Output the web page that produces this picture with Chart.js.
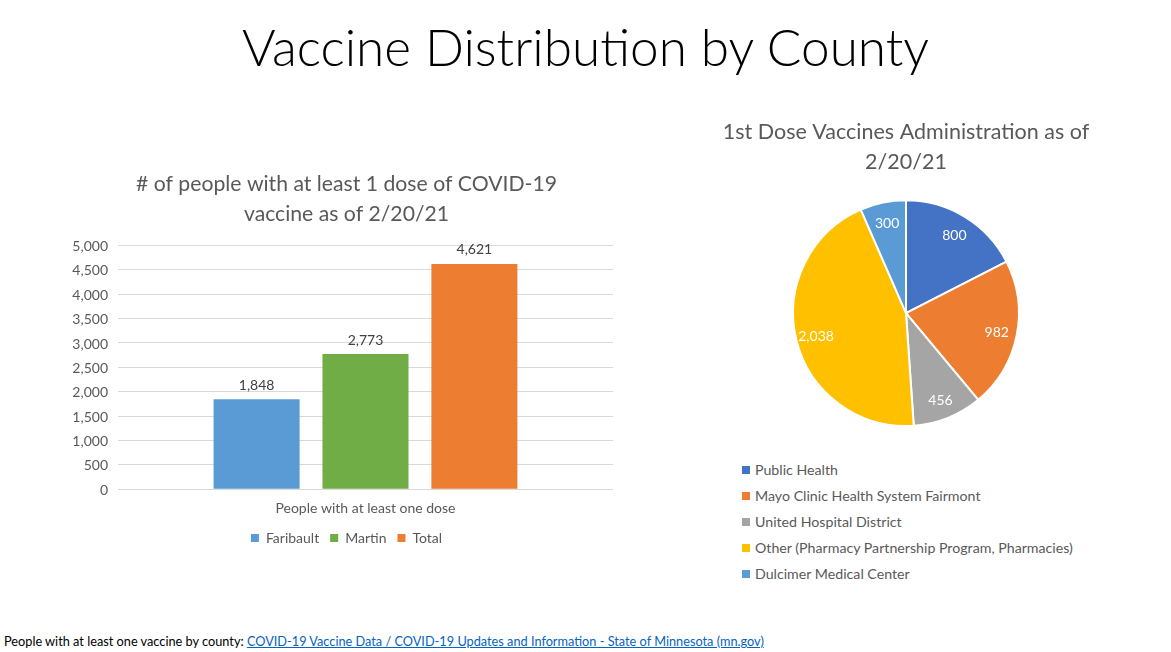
<!DOCTYPE html>
<html>
<head>
<meta charset="utf-8">
<script src="https://cdn.jsdelivr.net/npm/chart.js@4.4.1/dist/chart.umd.min.js"></script>
<style>
  html, body { margin: 0; padding: 0; background: #fff; width: 1171px; height: 652px; overflow: hidden; font-family: Lato, "Open Sans", sans-serif; }
  #main-title { position: absolute; left: 0; width: 1171px; top: 14px; line-height: 64px; text-align: center; font-size: 51.3px; font-weight: 300; color: #000; }
  #barWrap { position: absolute; left: 67px; top: 164px; width: 560px; height: 395px; }
  #pieWrap { position: absolute; left: 700px; top: 111px; width: 412px; height: 320px; }
  #pieLegend { position: absolute; left: 742px; top: 461px; font-size: 14.2px; color: #595959; }
  #pieLegend .item { height: 26px; line-height: 18px; white-space: nowrap; }
  #pieLegend .sw { display: inline-block; width: 8px; height: 8px; margin-right: 5px; vertical-align: 1px; }
  #footer { position: absolute; left: 4px; top: 633px; font-size: 12.74px; color: #000; white-space: nowrap; }
  #footer a { color: #0563C1; text-decoration: underline; }
</style>
</head>
<body>
<div id="main-title">Vaccine Distribution by County</div>
<div id="barWrap"><canvas id="bar"></canvas></div>
<div id="pieWrap"><canvas id="pie"></canvas></div>
<div id="pieLegend"></div>
<div id="footer">People with at least one vaccine by county: <a href="#">COVID-19 Vaccine Data / COVID-19 Updates and Information - State of Minnesota (mn.gov)</a></div>
<script>
// ---- Data ----
const barCategories = ['People with at least one dose'];
const barSeriesNames = ['Faribault', 'Martin', 'Total'];
const barValues = [1848, 2773, 4621];
const barColors = ['#5B9BD5', '#70AD47', '#ED7D31'];
const barTitle = ['# of people with at least 1 dose of COVID-19', 'vaccine as of 2/20/21'];
const yMin = 0, yMax = 5000, yStep = 500;

const pieLabels = ['Public Health', 'Mayo Clinic Health System Fairmont', 'United Hospital District', 'Other (Pharmacy Partnership Program, Pharmacies)', 'Dulcimer Medical Center'];
const pieValues = [800, 982, 456, 2038, 300];
const pieColors = ['#4472C4', '#ED7D31', '#A5A5A5', '#FFC000', '#5B9BD5'];
const pieTitle = ['1st Dose Vaccines Administration as of', '2/20/21'];

Chart.defaults.font.family = 'Lato, "Open Sans", sans-serif';
Chart.defaults.color = '#595959';
const fmt = v => Number(v).toLocaleString('en-US');

const barLabelPlugin = {
  id: 'barLabels',
  afterDatasetsDraw(chart) {
    const ctx = chart.ctx;
    ctx.save();
    ctx.font = '14px Lato, "Open Sans", sans-serif';
    // value labels above bars
    ctx.fillStyle = '#404040';
    ctx.textAlign = 'center';
    ctx.textBaseline = 'middle';
    chart.data.datasets.forEach((ds, i) => {
      const meta = chart.getDatasetMeta(i);
      meta.data.forEach((el, j) => {
        ctx.fillText(fmt(ds.data[j]), el.x, el.y - 14);
      });
    });
    // y-axis tick labels (drawn unclipped, from the scale's own ticks)
    const ys = chart.scales.y;
    ctx.fillStyle = '#595959';
    ctx.textAlign = 'right';
    ys.ticks.forEach(t => {
      ctx.fillText(fmt(t.value), ys.right - 10, ys.getPixelForValue(t.value) + 1);
    });
    ctx.restore();
  }
};

new Chart(document.getElementById('bar'), {
  type: 'bar',
  data: {
    labels: barCategories,
    datasets: barSeriesNames.map((n, i) => ({
      label: n,
      data: [barValues[i]],
      backgroundColor: barColors[i],
      categoryPercentage: 0.66,
      barPercentage: 0.79
    }))
  },
  options: {
    responsive: true,
    maintainAspectRatio: false,
    animation: false,
    layout: { padding: { left: 13, right: 14, top: 0, bottom: 4 } },
    plugins: {
      title: { display: true, text: barTitle, font: { size: 21.2, weight: 'normal', lineHeight: 1.38 }, color: '#595959', padding: { top: 6, bottom: 17 } },
      legend: { position: 'bottom', labels: { boxWidth: 8, boxHeight: 8, font: { size: 14 }, color: '#595959', padding: 11 } },
      tooltip: { enabled: false }
    },
    scales: {
      x: {
        grid: { display: false },
        border: { display: false },
        ticks: { font: { size: 14 }, color: '#595959', padding: 3 }
      },
      y: {
        min: yMin, max: yMax,
        afterFit: axis => { axis.width = 38; },
        ticks: { stepSize: yStep, display: false },
        grid: { color: '#D9D9D9', drawTicks: false },
        border: { display: false }
      }
    }
  },
  plugins: [barLabelPlugin]
});

const pieLabelPlugin = {
  id: 'pieLabels',
  afterDatasetsDraw(chart) {
    const ctx = chart.ctx;
    ctx.save();
    ctx.font = '14px Lato, "Open Sans", sans-serif';
    ctx.fillStyle = '#FFFFFF';
    ctx.textAlign = 'center';
    ctx.textBaseline = 'middle';
    const meta = chart.getDatasetMeta(0);
    meta.data.forEach((arc, j) => {
      const mid = (arc.startAngle + arc.endAngle) / 2;
      const r = arc.outerRadius * 0.82;
      ctx.fillText(fmt(chart.data.datasets[0].data[j]), arc.x + Math.cos(mid) * r, arc.y + Math.sin(mid) * r + 1);
    });
    ctx.restore();
  }
};

new Chart(document.getElementById('pie'), {
  type: 'pie',
  data: {
    labels: pieLabels,
    datasets: [{ data: pieValues, backgroundColor: pieColors, borderColor: '#FFFFFF', borderWidth: 2 }]
  },
  options: {
    responsive: true,
    maintainAspectRatio: false,
    animation: false,
    layout: { padding: { top: 0, bottom: 4 } },
    plugins: {
      title: { display: true, text: pieTitle, font: { size: 21.5, weight: 'normal', lineHeight: 1.4 }, color: '#595959', padding: { top: 6, bottom: 22 } },
      legend: { display: false },
      tooltip: { enabled: false }
    }
  },
  plugins: [pieLabelPlugin]
});

const leg = document.getElementById('pieLegend');
pieLabels.forEach((l, i) => {
  const d = document.createElement('div');
  d.className = 'item';
  d.innerHTML = '<span class="sw" style="background:' + pieColors[i] + '"></span>' + l;
  leg.appendChild(d);
});
</script>
</body>
</html>
